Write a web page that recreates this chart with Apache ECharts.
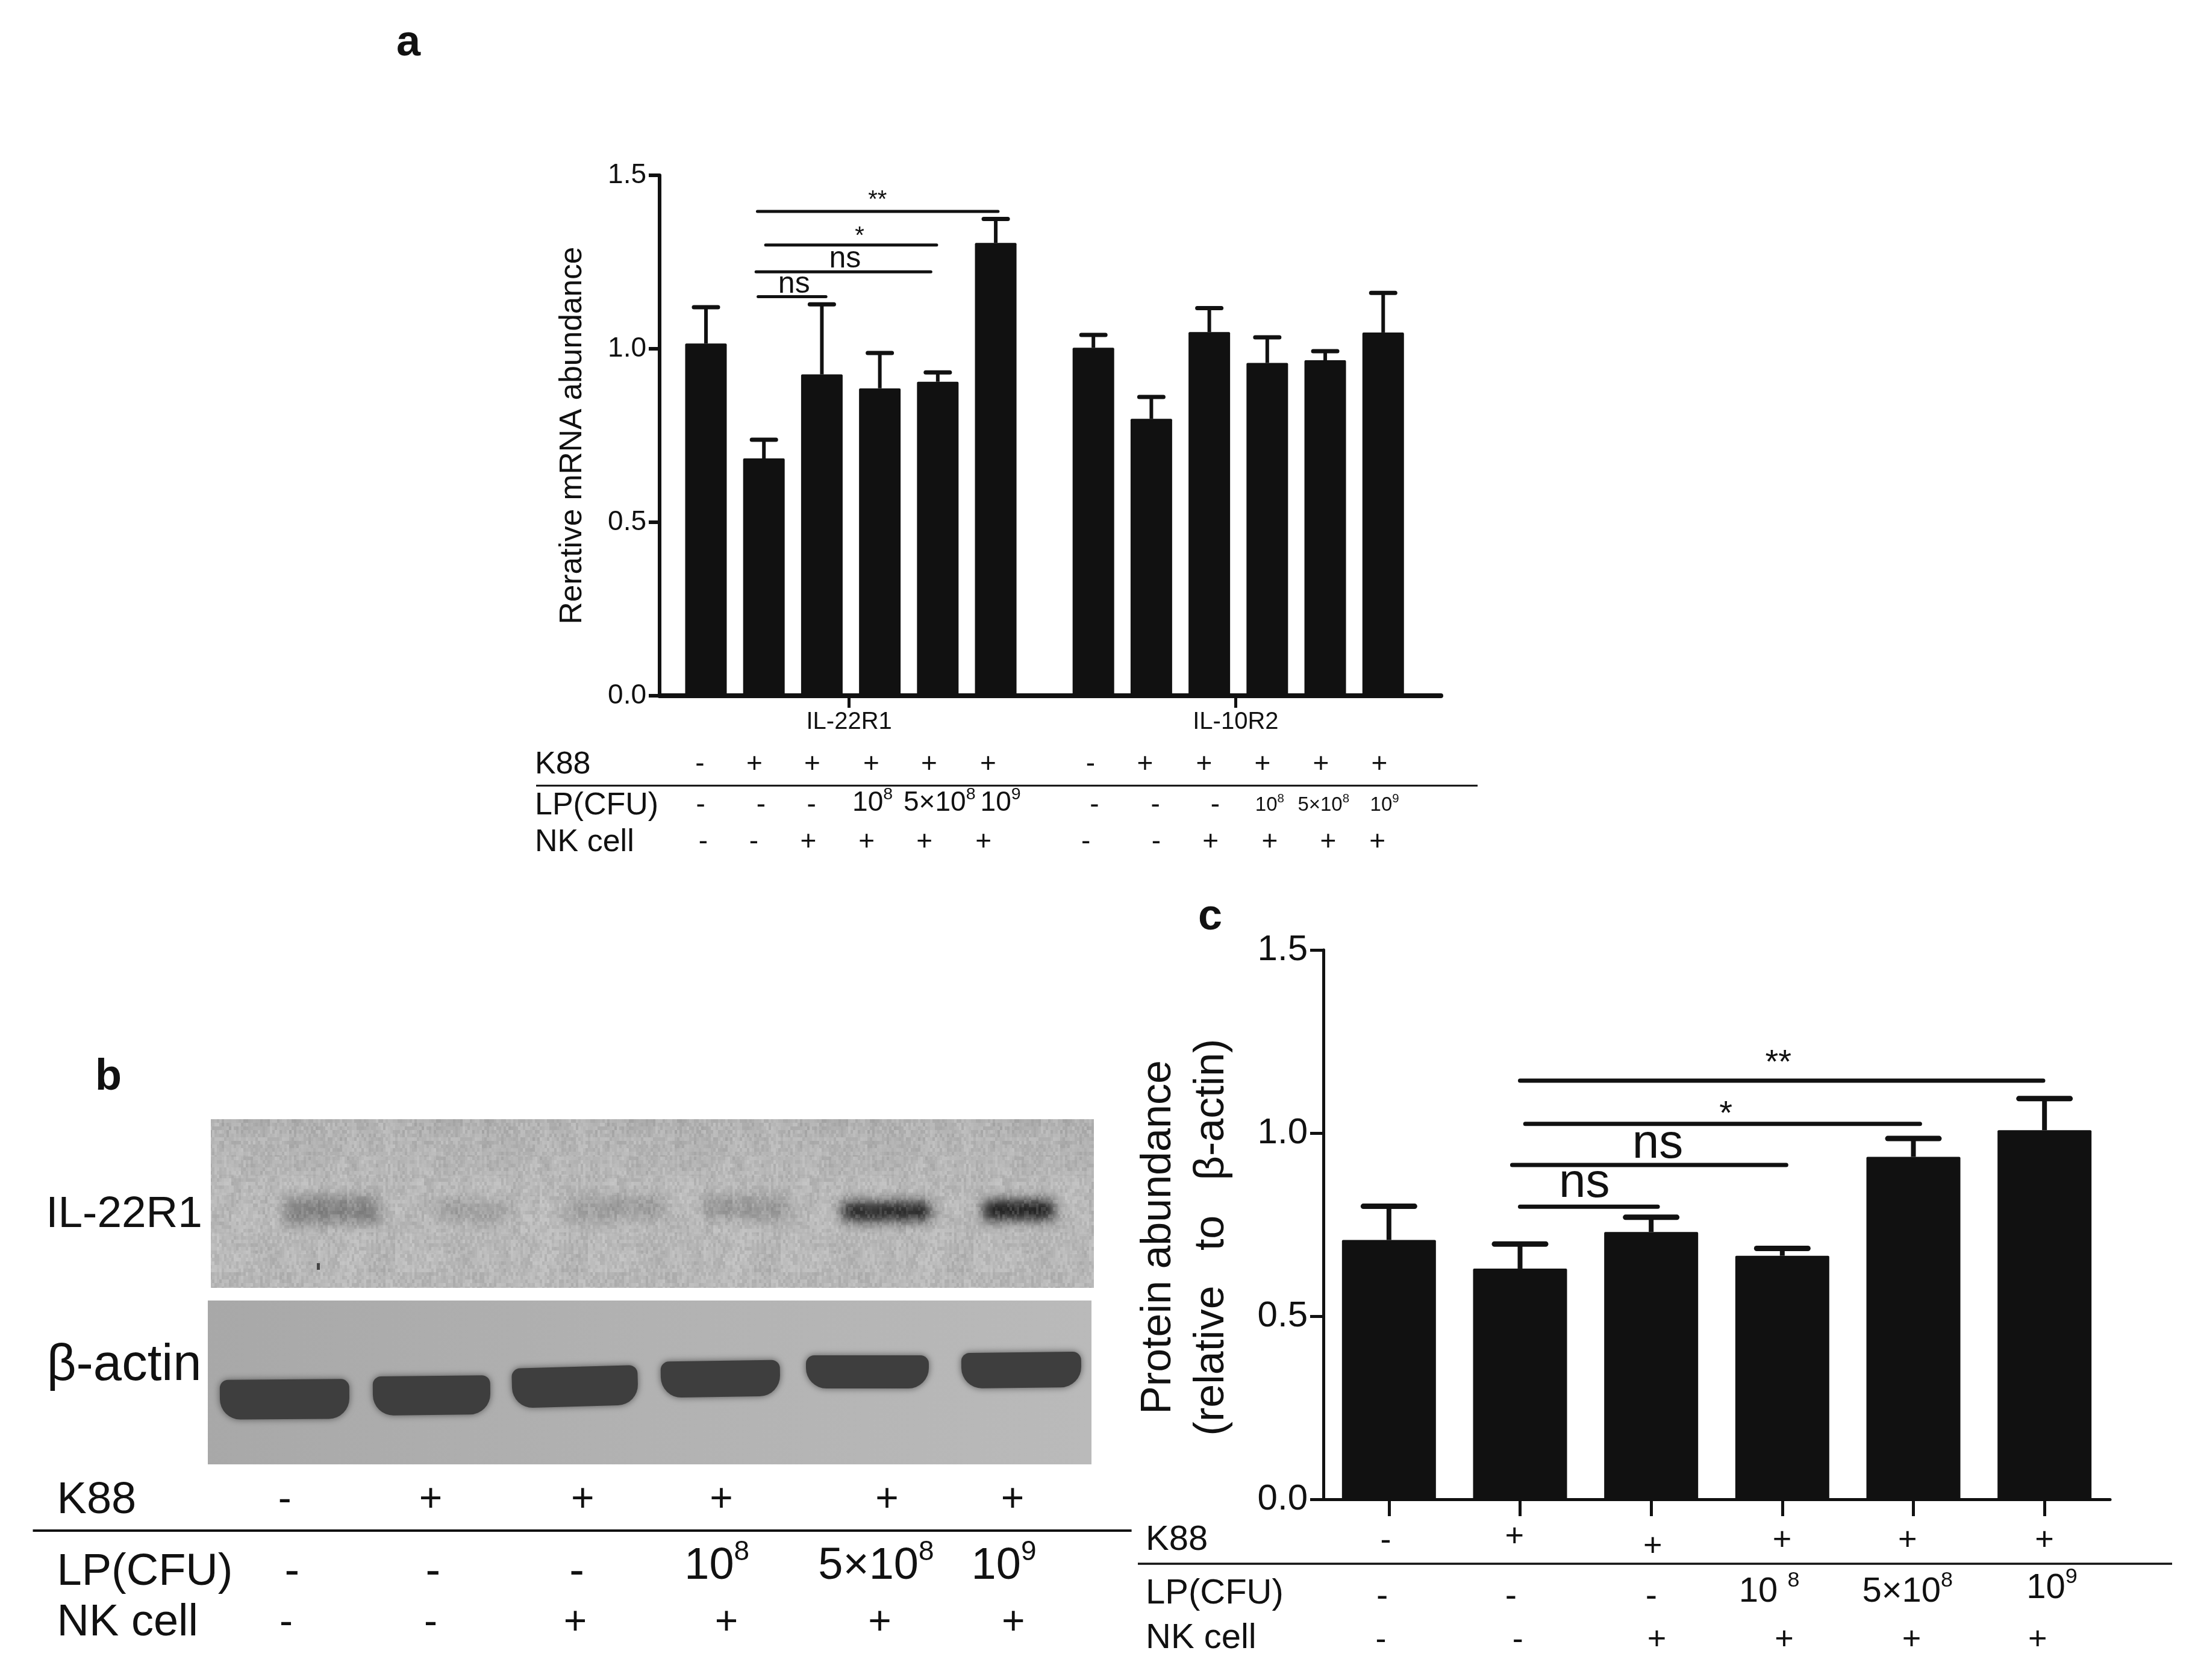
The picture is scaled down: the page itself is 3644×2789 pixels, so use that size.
<!DOCTYPE html>
<html><head><meta charset="utf-8">
<style>html,body{margin:0;background:#fff}#c{width:3644px;height:2789px}</style>
<script src="https://cdn.jsdelivr.net/npm/echarts@6/dist/echarts.min.js"></script>
</head><body><div id="c"></div>
<script>
// ---------- data: panel a ----------
const groupsA = ['IL-22R1', 'IL-10R2'];
const il22r1Mean = [1.015, 0.684, 0.926, 0.886, 0.905, 1.305];
const il22r1Top  = [1.12, 0.738, 1.128, 0.988, 0.932, 1.374];
const il10r2Mean = [1.003, 0.798, 1.048, 0.959, 0.967, 1.047];
const il10r2Top  = [1.04, 0.861, 1.117, 1.033, 0.993, 1.161];
const bracketLevelsA = [1.396, 1.299, 1.222, 1.15];
const bracketTextA = ['**', '*', 'ns', 'ns'];
// ---------- data: panel c ----------
const proteinMean = [0.708, 0.63, 0.73, 0.665, 0.935, 1.008];
const proteinTop  = [0.80, 0.697, 0.77, 0.685, 0.985, 1.094];
const bracketLevelsC = [1.143, 1.025, 0.913, 0.799];
const bracketTextC = ['**', '*', 'ns', 'ns'];
// ---------- data: treatment tables ----------
const k88Row = ['-', '+', '+', '+', '+', '+'];
const lpRow  = ['-', '-', '-', '10|8', '5×10|8', '10|9'];
const lpRowC = ['-', '-', '-', '10 |8', '5×10|8', '10|9'];
const nkRow  = ['-', '-', '+', '+', '+', '+'];
const yTicks = [0, 0.5, 1.0, 1.5];
const blotLabels = ['IL-22R1', 'β-actin'];
const il22Bands = [0.62, 0.42, 0.44, 0.5, 0.95, 1];

// ---------- layout ----------
const FONT = '"Liberation Sans", Arial, sans-serif';
const INK = '#111';
const ax = x => 846 + x * 1.0897, ay = y => 245 + y * 0.7692;
const bx = x => x * 1.212, by = y => 1750 + y * 0.663;
const cx = x => 1874 + x * 1.131, cy = y => 1476 + y * 0.839;
const GAP_A = 6.685;
const g = [];
function T(x, y, text, size, o = {}) {
  g.push({type: 'text', x, y, z: 20, style: {
    text, fontSize: size, fontFamily: FONT, fontWeight: o.w || 'normal', fill: INK,
    textAlign: o.a || 'center', textVerticalAlign: 'middle'}});
}
function S(x, y, spec, size) { // value with a raised exponent
  const [b, e] = spec.split('|');
  if (e === undefined) return T(x, y, b, size);
  g.push({type: 'text', x, y, z: 20, style: {
    text: `{b|${b}}{e|${e}}`, fontFamily: FONT, fill: INK, textAlign: 'center', textVerticalAlign: 'middle',
    rich: {b: {fontSize: size, fontFamily: FONT, fill: INK, lineHeight: size * 1.25},
           e: {fontSize: size * 0.62, fontFamily: FONT, fill: INK, verticalAlign: 'top', lineHeight: size * 1.25}}}});
}
function L(x1, y, x2, w) {
  g.push({type: 'line', z: 20, shape: {x1, y1: y, x2, y2: y}, style: {stroke: INK, lineWidth: w}});
}
function row(xs, y, values, size, supSizes, dy = 0, ys) {
  values.forEach((v, i) => S(xs[i], y + (v.includes('|') ? dy : 0) + (ys ? ys[i] : 0), v, (v.includes('|') && supSizes) ? supSizes[i] : size));
}
// panel letters
T(678, 72, 'a', 72, {w: 'bold'}); T(180, 1789, 'b', 72, {w: 'bold'}); T(2009, 1523, 'c', 72, {w: 'bold'});

// panel a table
const leftA = 888;
T(leftA, ay(1332), 'K88', 52, {a: 'left'}); T(leftA, ay(1420), 'LP(CFU)', 52, {a: 'left'}); T(leftA, ay(1500), 'NK cell', 52, {a: 'left'});
L(890, ay(1377), 2453, 3);
row([290,373,461,551,639,729].map(ax), ay(1332), k88Row, 46);
row([885,968,1058,1147,1236,1325].map(ax), ay(1332), k88Row, 46);
row([291,383,460,553,655,748].map(ax), ay(1420), lpRow, 46, null, -4);
row([891,984,1075,1158,1240,1333].map(ax), ay(1420), lpRow, 46, [0,0,0,33,33,33], 0);
row([295,372,455,544,632,722].map(ax), ay(1500), nkRow, 46);
row([878,985,1068,1158,1247,1322].map(ax), ay(1500), nkRow, 46);

// panel c table
T(1902, cy(1288), 'K88', 58, {a: 'left'}); T(1902, cy(1395), 'LP(CFU)', 58, {a: 'left'}); T(1902, cy(1483), 'NK cell', 58, {a: 'left'});
L(1889, cy(1335), 3606, 3.5);
row([377,566,769,959,1143,1344].map(cx), cy(1290), k88Row, 54, null, 0, [0, -6, 10, 0, 0, 0]);
row([372,561,767,940,1143,1355].map(cx), cy(1400), lpRowC, 58, [0,0,0,58,58,58], -8, [0, 0, 0, 0, 0, -6]);
row([370,571,775,962,1149,1334].map(cx), cy(1487), nkRow, 54);

// panel b table
T(bx(78), by(1118), 'K88', 74, {a: 'left'}); T(bx(78), by(1298), 'LP(CFU)', 74, {a: 'left'}); T(bx(78), by(1425), 'NK cell', 74, {a: 'left'});
L(bx(45), by(1193), bx(1550), 4);
row([390,590,798,988,1215,1387].map(bx), by(1118), k88Row, 66);
row([400,593,790,982,1200,1375].map(bx), by(1298), lpRow, 74, [0,0,0,74,74,74], -10);
row([392,590,788,995,1205,1388].map(bx), by(1425), nkRow, 66);
T(bx(170), by(403), blotLabels[0], 73); T(bx(170), by(780), blotLabels[1], 85);

// blots: the two photographs redrawn as soft shapes
function grainTile() { // fixed speckle pattern, a texture only
  const c = document.createElement('canvas'); c.width = 320; c.height = 320;
  const x = c.getContext('2d'); let s = 12345;
  const next = () => (s = (s * 1103515245 + 12345) & 0x7fffffff, (s >> 8) % 100);
  const paint = (cw, ch, up, down) => {
    for (let j = 0; j < 320; j += ch) for (let i = 0; i < 320; i += cw) {
      const t = next();
      x.fillStyle = t < 50 ? `rgba(255,255,255,${t / 50 * up})` : `rgba(40,40,40,${(t - 50) / 50 * down})`;
      x.fillRect(i, j, cw, ch);
    }
  };
  paint(16, 32, 0.05, 0.04);
  paint(4, 6, 0.15, 0.08);
  return c;
}
// a shape drawn off the page so that only its blurred shadow lands on the blot
const OFF = 5000;
function soft(x1, y1, x2, y2, color, blur, r, z) {
  const w = x2 - x1, h = y2 - y1;
  g.push({type: 'rect', z, x: (x1 + x2) / 2 - OFF, y: (y1 + y2) / 2,
    shape: {x: -w / 2, y: -h / 2, width: w, height: h, r},
    style: {fill: color, shadowBlur: blur, shadowColor: color, shadowOffsetX: OFF}});
}
g.push({type: 'rect', z: 1, shape: {x: 350, y: 1858, width: 1466, height: 280},
  style: {fill: new echarts.graphic.LinearGradient(0, 0, 0, 1, [{offset: 0, color: '#b2b2b2'}, {offset: 0.5, color: '#bbbbbb'}, {offset: 1, color: '#b8b8b8'}])}});
g.push({type: 'rect', z: 1, shape: {x: 345, y: 2159, width: 1467, height: 272},
  style: {fill: new echarts.graphic.LinearGradient(0, 0, 1, 0.35, [{offset: 0, color: '#a8a8a8'}, {offset: 0.5, color: '#b2b2b2'}, {offset: 1, color: '#bababa'}])}});
[[467,636,1984,2034],[715,850,1990,2030],[934,1110,1984,2028],[1165,1315,1984,2026],[1392,1552,1992,2030],[1626,1756,1990,2028]].forEach((b, i) => {
  soft(b[0] + 4, b[2] + 2, b[1] - 4, b[3] - 2, `rgba(40,40,40,${il22Bands[i]})`, 20, 12, 2);
  if (il22Bands[i] > 0.8) soft(b[0] + 14, b[2] + 8, b[1] - 14, b[3] - 8, 'rgba(15,15,15,0.6)', 12, 8, 2);
});
g.push({type: 'rect', z: 3, shape: {x: 350, y: 1858, width: 1466, height: 280},
  style: {fill: {image: grainTile(), repeat: 'repeat'}}});
g.push({type: 'rect', z: 4, shape: {x: 526, y: 2097, width: 5, height: 11}, style: {fill: '#444'}});
[[365,580,2290,2356,.4],[619,814,2284,2349,.6],[850,1059,2269,2335,1.6],[1097,1295,2259,2319,.9],[1338,1542,2250,2305,0],[1596,1795,2245,2304,.6]].forEach(b => {
  const w = b[1] - b[0], h = b[3] - b[2];
  g.push({type: 'rect', z: 2, x: (b[0] + b[1]) / 2, y: (b[2] + b[3]) / 2, rotation: b[4] * Math.PI / 180,
    shape: {x: -w / 2, y: -h / 2, width: w, height: h, r: [14, 14, 34, 34]},
    style: {fill: '#3e3e3e', shadowBlur: 12, shadowColor: '#565656'}});
});

// ---------- chart helpers ----------
function errorSeries(xi, yi, pts, capPx, w) {
  return {type: 'custom', xAxisIndex: xi, yAxisIndex: yi, silent: true, z: 5, data: pts,
    renderItem(p, api) {
      const a = api.coord([api.value(0), api.value(1)]), b = api.coord([api.value(0), api.value(2)]);
      return {type: 'group', children: [
        {type: 'line', shape: {x1: a[0], y1: a[1], x2: b[0], y2: b[1]}, style: {stroke: INK, lineWidth: w}},
        {type: 'line', shape: {x1: b[0] - capPx / 2, y1: b[1], x2: b[0] + capPx / 2, y2: b[1]}, style: {stroke: INK, lineWidth: w + 1, lineCap: 'round'}}]};
    }};
}
function bracketSeries(xi, yi, spans, levels, texts, lx, sizes, offs, w) {
  return {type: 'custom', xAxisIndex: xi, yAxisIndex: yi, silent: true, z: 6,
    data: levels.map((v, i) => [spans[i][0], spans[i][1], v, i]),
    renderItem(p, api) {
      const i = api.value(3), a = api.coord([api.value(0), api.value(2)]), b = api.coord([api.value(1), api.value(2)]);
      const t = api.coord([lx[i], api.value(2)]);
      return {type: 'group', children: [
        {type: 'line', shape: {x1: a[0], y1: a[1], x2: b[0], y2: b[1]}, style: {stroke: INK, lineWidth: w, lineCap: 'round'}},
        {type: 'text', x: t[0], y: t[1] - offs[i], style: {text: texts[i], fontSize: sizes[i], fontFamily: FONT, fill: INK, textAlign: 'center', textVerticalAlign: 'middle'}}]};
    }};
}
const barSeries = (xi, yi, pts, bw) => ({type: 'bar', xAxisIndex: xi, yAxisIndex: yi, barWidth: bw, z: 4, data: pts, itemStyle: {color: INK, borderRadius: 2}});
const yAxis = (gi, size, name, nameSize, gap, lw, tl, margin, pad) => ({type: 'value', gridIndex: gi, min: 0, max: 1.5, interval: 0.5, splitLine: {show: false},
  name, nameLocation: 'middle', nameGap: gap, nameRotate: 90, nameTextStyle: {fontSize: nameSize, fontFamily: FONT, color: INK, lineHeight: nameSize * 1.26, padding: pad},
  axisLine: {show: true, onZero: false, lineStyle: {color: INK, width: lw}}, axisTick: {show: true, length: tl, lineStyle: {color: INK, width: lw}},
  axisLabel: {fontSize: size, fontFamily: FONT, color: INK, margin, formatter: v => yTicks.includes(v) ? v.toFixed(1) : ''}});

// slot positions derive from the order of the bars
const xsA1 = il22r1Mean.map((_, i) => i), xsA2 = il10r2Mean.map((_, i) => i + GAP_A);
const seriesA = [...il22r1Mean.map((v, i) => [xsA1[i], v]), ...il10r2Mean.map((v, i) => [xsA2[i], v])];
const errA = [...il22r1Mean.map((v, i) => [xsA1[i], v, il22r1Top[i]]), ...il10r2Mean.map((v, i) => [xsA2[i], v, il10r2Top[i]])];
const seriesC = proteinMean.map((v, i) => [i, v]);
const errC = proteinMean.map((v, i) => [i, v, proteinTop[i]]);
const groupTicks = [2.47, 9.14];

const chart = echarts.init(document.getElementById('c'), null, {renderer: 'canvas', width: 3644, height: 2789});
chart.setOption({
  animation: false, backgroundColor: '#fff',
  grid: [{left: 1095, top: 291, width: 1297, height: 864}, {left: 2197, top: 1577, width: 1306, height: 912}],
  xAxis: [
    {type: 'value', gridIndex: 0, min: -0.8, max: 12.68, splitLine: {show: false},
     axisLine: {show: true, onZero: false, lineStyle: {color: INK, width: 8}},
     axisTick: {show: true, customValues: groupTicks, length: 20, lineStyle: {color: INK, width: 5}},
     axisLabel: {show: true, customValues: groupTicks, fontSize: 40, fontFamily: FONT, color: INK, margin: 24,
       formatter: v => groupsA[groupTicks.indexOf(v)]}},
    {type: 'value', gridIndex: 1, min: -0.5, max: 5.5, splitLine: {show: false},
     axisLine: {show: true, onZero: false, lineStyle: {color: INK, width: 5}},
     axisTick: {show: true, customValues: [0, 1, 2, 3, 4, 5], length: 28, lineStyle: {color: INK, width: 5}},
     axisLabel: {show: false}}
  ],
  yAxis: [
    yAxis(0, 46, 'Rerative mRNA abundance', 51.5, 112, 6, 18, 22),
    yAxis(1, 60, 'Protein abundance\n(relative   to   β-actin)', 70, 141, 5, 22, 26, [0, 42, 0, 0])
  ],
  series: [
    barSeries(0, 0, seriesA, 69),
    errorSeries(0, 0, errA, 40, 6),
    bracketSeries(0, 0, [[0.888, 5.04], [1.03, 3.98], [0.865, 3.88], [0.9, 2.07]], bracketLevelsA, bracketTextA,
      [2.96, 2.65, 2.4, 1.52], [40, 40, 50, 50], [18, 14, 21, 20], 5),
    barSeries(1, 1, seriesC, 156),
    errorSeries(1, 1, errC, 85, 8),
    bracketSeries(1, 1, [[1.0, 4.99], [1.04, 4.05], [0.94, 3.03], [1.0, 2.05]], bracketLevelsC, bracketTextC,
      [2.97, 2.57, 2.05, 1.49], [56, 56, 80, 80], [28, 15, 34, 38], 7)
  ],
  graphic: {elements: g}
});
</script></body></html>
